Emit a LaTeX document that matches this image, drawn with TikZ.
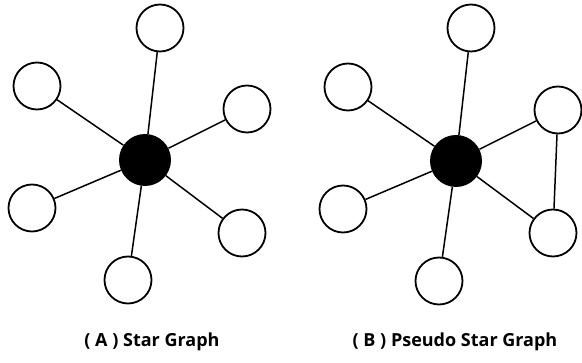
\documentclass[tikz,border=0pt]{standalone}
\usepackage{fontspec}
\setmainfont{Open Sans}
\begin{document}
\begin{tikzpicture}[x=1pt,y=-1pt,
  leaf/.style={circle,draw=black,line width=1.8pt,fill=white,minimum size=47pt,inner sep=0pt},
  hub/.style={circle,fill=black,minimum size=52pt,inner sep=0pt},
  edge/.style={line width=1.5pt},
  lbl/.style={font=\fontsize{18}{21}\selectfont\bfseries}]
\useasboundingbox (0,0) rectangle (582,363);
% Star graph A
\node[hub] (ca) at (145,160) {};
\node[leaf] (a1) at (160,28) {};
\node[leaf] (a2) at (37,86) {};
\node[leaf] (a3) at (247,109) {};
\node[leaf] (a4) at (32,208) {};
\node[leaf] (a5) at (242,233) {};
\node[leaf] (a6) at (128,280) {};
\foreach \n in {a1,a2,a3,a4,a5,a6} \draw[edge] (ca) -- (\n);
% Pseudo star graph B
\node[hub] (cb) at (456,161) {};
\node[leaf] (b1) at (471,28) {};
\node[leaf] (b2) at (348,87) {};
\node[leaf] (b3) at (558,110) {};
\node[leaf] (b4) at (343,209) {};
\node[leaf] (b5) at (553,233) {};
\node[leaf] (b6) at (439,281) {};
\foreach \n in {b1,b2,b3,b4,b5,b6} \draw[edge] (cb) -- (\n);
\draw[edge] (b3) -- (b5);
\node[lbl] (la) at (152,342) {( A ) Star Graph};
\node[lbl] (lb) at (455,342) {( B ) Pseudo Star Graph};
\end{tikzpicture}
\end{document}
